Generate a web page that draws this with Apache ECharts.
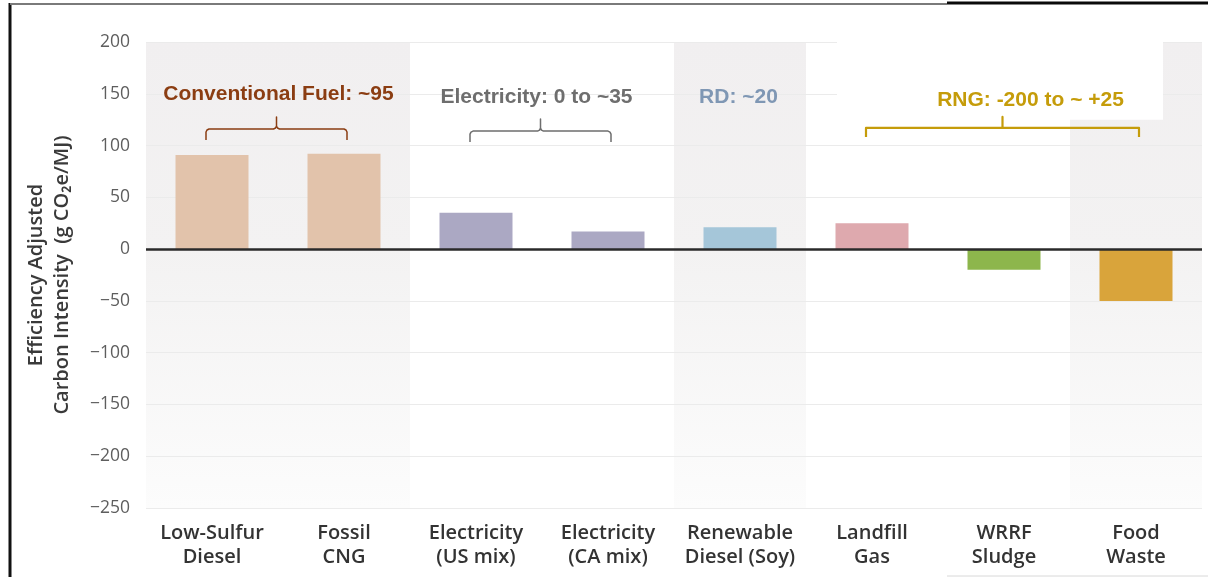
<!DOCTYPE html>
<html>
<head>
<meta charset="utf-8">
<title>Efficiency Adjusted Carbon Intensity</title>
<script src="https://cdn.jsdelivr.net/npm/echarts@6/dist/echarts.min.js"></script>
<style>
  html, body { margin: 0; padding: 0; background: #ffffff; }
  #chart { width: 1208px; height: 577px; }
</style>
</head>
<body>
<div id="chart"></div>
<script>
// ---- data ----
const categories = [
  'Low-Sulfur\nDiesel', 'Fossil\nCNG', 'Electricity\n(US mix)', 'Electricity\n(CA mix)',
  'Renewable\nDiesel (Soy)', 'Landfill\nGas', 'WRRF\nSludge', 'Food\nWaste'
];
const intensity = [91, 92, 35, 17, 21, 25, -20, -50];
const barColors = ['#e2c3ab', '#e2c3ab', '#aba8c3', '#aba8c3', '#a5c6d9', '#dea9ae', '#8db64c', '#d9a43b'];

const yMin = -250, yMax = 200, yStep = 50;
// columns drawn on a light shaded band
const shadedIndex = [0, 1, 4, 7];

// bracket annotations over groups of fuels
const annotationLabels = ['Conventional Fuel: ~95', 'Electricity: 0 to ~35', 'RD: ~20', 'RNG: -200 to ~ +25'];
const annotationFirst = [0, 2, 4, 5];
const annotationLast  = [1, 3, 4, 7];
const annotationColors = ['#8b3d12', '#6e6e6e', '#7f97b4', '#c59c0a'];
const bracketLevel = [116, 114, null, 117];
const labelLevel = [150, 147, 147, 144];

// drawing style per annotation (offsets in px)
const annotationStyle = [
  { dx: 2,  rounded: true,  width: 1.5, box: false },
  { dx: -4, rounded: true,  width: 1.5, box: false },
  { dx: 0,  rounded: false, width: 0,   box: false },
  { dx: 28, rounded: false, width: 2.2, box: true }
];

const shadeTop = categories.map((_, i) => shadedIndex.includes(i) ? yMax : '-');
const shadeBottom = categories.map((_, i) => shadedIndex.includes(i) ? yMin : '-');
const annotationData = annotationLabels.map((_, i) => [
  annotationFirst[i], annotationLast[i], bracketLevel[i] == null ? 0 : bracketLevel[i], labelLevel[i], i
]);

const minus = s => String(s).replace('-', '\u2212');
const chart = echarts.init(document.getElementById('chart'), null, { renderer: 'canvas' });

function renderAnnotation(params, api) {
  const i = api.value(4);
  const st = annotationStyle[i];
  const color = annotationColors[i];
  const first = api.coord([api.value(0), 0]);
  const last = api.coord([api.value(1), 0]);
  const x0 = first[0] - 6, x1 = last[0] + 3;
  const xm = (x0 + x1) / 2;
  const children = [];
  if (st.box) {
    const top = api.coord([api.value(0), yMax + 1])[1];
    const bottom = api.coord([api.value(0), 125])[1];
    children.push({
      type: 'rect',
      shape: { x: first[0] - 35, y: top, width: (last[0] + 27) - (first[0] - 35), height: bottom - top },
      style: { fill: '#ffffff' }
    });
  }
  if (bracketLevel[i] != null) {
    const yl = api.coord([0, bracketLevel[i]])[1];
    const drop = st.rounded ? 11 : 9;
    const r = st.rounded ? 3 : 0;
    const pts = st.rounded
      ? [[x0, yl + drop], [x0, yl + r], [x0 + 1, yl + 1], [x0 + r, yl], [xm - r, yl], [xm - 1, yl - 1], [xm, yl - r],
         [xm, yl - 12], [xm, yl - r], [xm + 1, yl - 1], [xm + r, yl], [x1 - r, yl], [x1 - 1, yl + 1], [x1, yl + r], [x1, yl + drop]]
      : [[x0, yl + drop], [x0, yl], [xm, yl], [xm, yl - 11], [xm, yl], [x1, yl], [x1, yl + drop]];
    children.push({
      type: 'polyline',
      shape: { points: pts },
      style: { stroke: color, lineWidth: st.width, fill: null, lineJoin: 'round' }
    });
  }
  const ty = api.coord([0, api.value(3)])[1];
  children.push({
    type: 'text',
    x: xm + st.dx,
    y: ty,
    style: {
      text: annotationLabels[i],
      fill: color,
      font: 'bold 21px "Liberation Sans", Arial, sans-serif',
      align: 'center',
      verticalAlign: 'middle'
    }
  });
  return { type: 'group', children };
}

const option = {
  animation: false,
  backgroundColor: '#ffffff',
  grid: { left: 146, right: 6, top: 42, bottom: 69, containLabel: false },
  xAxis: [
    {
      type: 'category',
      data: categories,
      axisLine: { show: false },
      axisTick: { show: false },
      axisLabel: {
        interval: 0,
        margin: 13,
        color: '#333333',
        fontFamily: '"Open Sans", sans-serif',
        fontWeight: 600,
        fontSize: 20,
        lineHeight: 24
      }
    },
    { type: 'category', data: categories, show: false }
  ],
  yAxis: {
    type: 'value',
    min: yMin,
    max: yMax,
    interval: yStep,
    name: 'Efficiency Adjusted\nCarbon Intensity  (g CO\u2082e/MJ)',
    nameLocation: 'middle',
    nameGap: 71,
    nameTextStyle: {
      color: '#3a3a3a',
      fontFamily: '"Open Sans", sans-serif',
      fontWeight: 600,
      fontSize: 20,
      lineHeight: 26
    },
    axisLine: { show: false },
    axisTick: { show: false },
    axisLabel: {
      margin: 16,
      color: '#5e5e5e',
      fontFamily: '"Open Sans", sans-serif',
      fontSize: 17.5,
      formatter: v => minus(v)
    },
    splitLine: { lineStyle: { color: '#ebebeb', width: 1 } }
  },
  series: [
    {
      name: 'shade-top',
      type: 'bar',
      xAxisIndex: 1,
      stack: 'shade',
      barWidth: '100%',
      barCategoryGap: 0,
      z: -1,
      silent: true,
      data: shadeTop,
      itemStyle: {
        color: new echarts.graphic.LinearGradient(0, 0, 0, 1, [
          { offset: 0, color: '#f1eff0' },
          { offset: 1, color: '#f3f2f2' }
        ])
      }
    },
    {
      name: 'shade-bottom',
      type: 'bar',
      xAxisIndex: 1,
      stack: 'shade',
      barWidth: '100%',
      barCategoryGap: 0,
      z: -1,
      silent: true,
      data: shadeBottom,
      itemStyle: {
        color: new echarts.graphic.LinearGradient(0, 0, 0, 1, [
          { offset: 0, color: '#f3f2f2' },
          { offset: 1, color: '#fcfcfc' }
        ])
      }
    },
    {
      name: 'Carbon intensity',
      type: 'bar',
      xAxisIndex: 0,
      barWidth: 73,
      z: 3,
      data: intensity.map((v, i) => ({ value: v, itemStyle: { color: barColors[i] } })),
      markLine: {
        silent: true,
        symbol: 'none',
        label: { show: false },
        lineStyle: { color: '#2a2a2a', width: 2.5, type: 'solid' },
        data: [{ yAxis: 0 }]
      }
    },
    {
      name: 'annotations',
      type: 'custom',
      xAxisIndex: 0,
      z: 5,
      silent: true,
      clip: false,
      encode: { x: [0, 1], y: [2, 3] },
      renderItem: renderAnnotation,
      data: annotationData
    }
  ],
  graphic: [
    { type: 'line', shape: { x1: 10, y1: 3, x2: 10, y2: 577 }, style: { stroke: '#111111', lineWidth: 3 }, z: 100 },
    { type: 'line', shape: { x1: 10, y1: 4, x2: 947, y2: 4 }, style: { stroke: '#7a7a7a', lineWidth: 2 }, z: 100 },
    { type: 'line', shape: { x1: 947, y1: 3, x2: 1208, y2: 3 }, style: { stroke: '#0a0a0a', lineWidth: 3 }, z: 100 },
    { type: 'line', shape: { x1: 947, y1: 576, x2: 1208, y2: 576 }, style: { stroke: '#d8d8d8', lineWidth: 1 }, z: 100 }
  ]
};

chart.setOption(option);
</script>
</body>
</html>
